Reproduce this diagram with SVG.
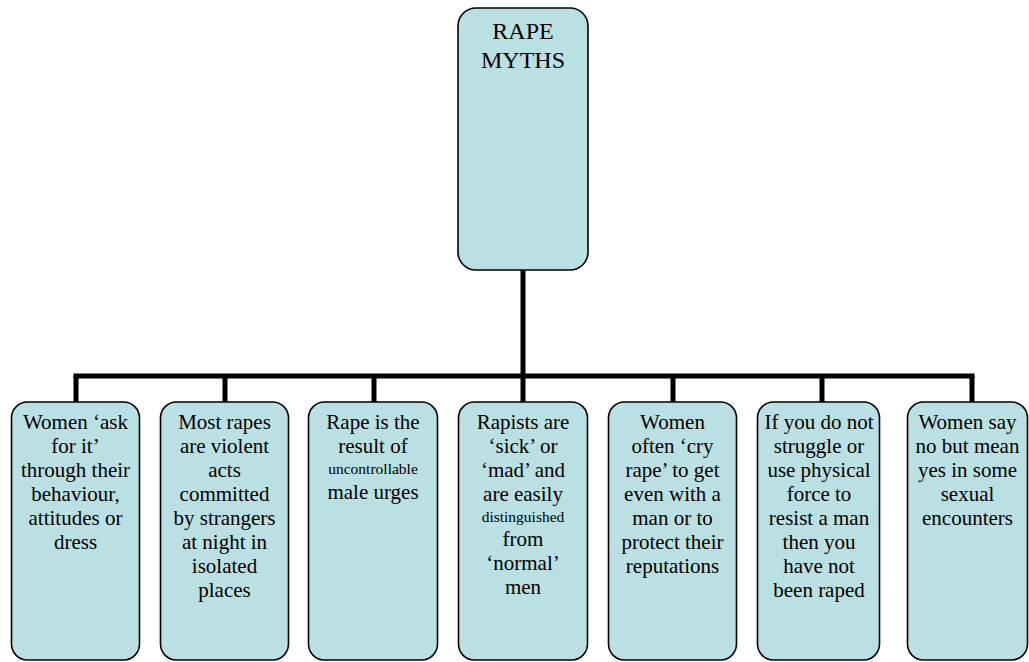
<svg xmlns="http://www.w3.org/2000/svg" width="1029" height="662" viewBox="0 0 1029 662">
<style>
.box{fill:#bae0e3;stroke:#000;stroke-width:1.6}
.t{font-size:21px;fill:#000;text-anchor:middle}
.s{font-size:15.5px}
.h{font-size:24px}
.c{stroke:#000;stroke-width:5;fill:none}
</style>
<rect width="1029" height="662" fill="#fff"/>
<g id="connectors">
<line class="c" x1="523" y1="270" x2="523" y2="376"/>
<line class="c" x1="73.5" y1="376" x2="974.5" y2="376"/>
<line class="c" x1="76" y1="376" x2="76" y2="402"/>
<line class="c" x1="225" y1="376" x2="225" y2="402"/>
<line class="c" x1="374" y1="376" x2="374" y2="402"/>
<line class="c" x1="523" y1="376" x2="523" y2="402"/>
<line class="c" x1="673" y1="376" x2="673" y2="402"/>
<line class="c" x1="822" y1="376" x2="822" y2="402"/>
<line class="c" x1="972" y1="376" x2="972" y2="402"/>
</g>
<g font-family="Liberation Serif, serif">
<g id="root">
<rect class="box" x="458" y="8" width="130" height="262" rx="18"/>
<text class="t h" x="523" y="39">RAPE</text>
<text class="t h" x="523" y="68">MYTHS</text>
</g>
<g id="n1">
<rect class="box" x="11.5" y="402" width="128" height="258" rx="16"/>
<text class="t" x="75.5" y="429"><tspan x="75.5">Women ‘ask</tspan><tspan x="75.5" dy="24">for it’</tspan><tspan x="75.5" dy="24">through their</tspan><tspan x="75.5" dy="24">behaviour,</tspan><tspan x="75.5" dy="24">attitudes or</tspan><tspan x="75.5" dy="24">dress</tspan></text>
</g>
<g id="n2">
<rect class="box" x="160.5" y="402" width="128" height="258" rx="16"/>
<text class="t" x="224.5" y="429"><tspan x="224.5">Most rapes</tspan><tspan x="224.5" dy="24">are violent</tspan><tspan x="224.5" dy="24">acts</tspan><tspan x="224.5" dy="24">committed</tspan><tspan x="224.5" dy="24">by strangers</tspan><tspan x="224.5" dy="24">at night in</tspan><tspan x="224.5" dy="24">isolated</tspan><tspan x="224.5" dy="24">places</tspan></text>
</g>
<g id="n3">
<rect class="box" x="308.5" y="402" width="129" height="258" rx="16"/>
<text class="t" x="373" y="429"><tspan x="373">Rape is the</tspan><tspan x="373" dy="24">result of</tspan><tspan x="373" dy="21" class="s">uncontrollable</tspan><tspan x="373" dy="25">male urges</tspan></text>
</g>
<g id="n4">
<rect class="box" x="458.5" y="402" width="129" height="258" rx="16"/>
<text class="t" x="523" y="429"><tspan x="523">Rapists are</tspan><tspan x="523" dy="24">‘sick’ or</tspan><tspan x="523" dy="24">‘mad’ and</tspan><tspan x="523" dy="24">are easily</tspan><tspan x="523" dy="21" class="s">distinguished</tspan><tspan x="523" dy="24">from</tspan><tspan x="523" dy="24">‘normal’</tspan><tspan x="523" dy="24">men</tspan></text>
</g>
<g id="n5">
<rect class="box" x="608.5" y="402" width="128" height="258" rx="16"/>
<text class="t" x="672.5" y="429"><tspan x="672.5">Women</tspan><tspan x="672.5" dy="24">often ‘cry</tspan><tspan x="672.5" dy="24">rape’ to get</tspan><tspan x="672.5" dy="24">even with a</tspan><tspan x="672.5" dy="24">man or to</tspan><tspan x="672.5" dy="24">protect their</tspan><tspan x="672.5" dy="24">reputations</tspan></text>
</g>
<g id="n6">
<rect class="box" x="757.5" y="402" width="122" height="258" rx="16"/>
<text class="t" x="819" y="429"><tspan x="819">If you do not</tspan><tspan x="819" dy="24">struggle or</tspan><tspan x="819" dy="24">use physical</tspan><tspan x="819" dy="24">force to</tspan><tspan x="819" dy="24">resist a man</tspan><tspan x="819" dy="24">then you</tspan><tspan x="819" dy="24">have not</tspan><tspan x="819" dy="24">been raped</tspan></text>
</g>
<g id="n7">
<rect class="box" x="907.5" y="402" width="120" height="258" rx="16"/>
<text class="t" x="967.5" y="429"><tspan x="967.5">Women say</tspan><tspan x="967.5" dy="24">no but mean</tspan><tspan x="967.5" dy="24">yes in some</tspan><tspan x="967.5" dy="24">sexual</tspan><tspan x="967.5" dy="24">encounters</tspan></text>
</g>
</g>
</svg>
